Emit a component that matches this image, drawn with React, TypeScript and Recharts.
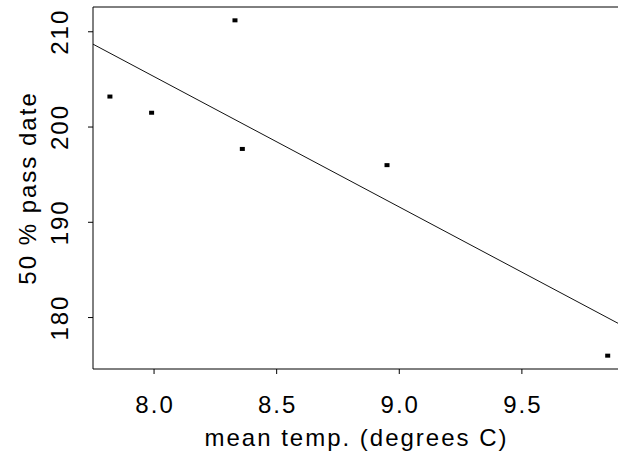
import { ScatterChart, Scatter, XAxis, YAxis, ReferenceLine } from "recharts";

const temps = [7.82, 7.99, 8.33, 8.36, 8.95, 9.85];
const passDates = [203.2, 201.5, 211.2, 197.7, 196.0, 176.0];
const fitTemps = [7.751, 9.892];
const fitDates = [208.7, 179.4];
const xTicks = [8.0, 8.5, 9.0, 9.5];
const yTicks = [180, 190, 200, 210];
const xDomain = [7.751, 9.892];
const yDomain = [174.6, 212.6];

const points = temps.map((t, i) => ({ x: t, y: passDates[i] }));
const fit = fitTemps.map((t, i) => ({ x: t, y: fitDates[i] }));

const font = "'Liberation Sans', Arial, sans-serif";
const fs = 24;
const ls = 2;

function XTick({ x, y, payload }: any) {
  return (
    <text x={x + ls / 2} y={y + 37} textAnchor="middle" fill="#000" fontFamily={font} fontSize={fs} letterSpacing={ls}>
      {Number(payload.value).toFixed(1)}
    </text>
  );
}

function YTick({ x, y, payload }: any) {
  const bx = x - 19;
  return (
    <text x={bx} y={y + ls / 2} textAnchor="middle" fill="#000" fontFamily={font} fontSize={fs} letterSpacing={ls} transform={`rotate(-90, ${bx}, ${y})`}>
      {payload.value}
    </text>
  );
}

function Dot({ cx, cy }: any) {
  return <rect x={cx - 2.5} y={cy - 2} width={5} height={4} fill="#000" />;
}

export default function App() {
  return (
    <div style={{ position: "absolute", left: 0, top: 0, background: "#fff" }}>
      <ScatterChart width={618} height={455} margin={{ top: 7, right: 0, bottom: 0, left: 0 }}>
        <XAxis
          dataKey="x"
          type="number"
          domain={xDomain}
          allowDataOverflow
          ticks={xTicks}
          interval={0}
          height={86}
          tickSize={5}
          axisLine={{ stroke: "#000" }}
          tickLine={{ stroke: "#000" }}
          tick={<XTick />}
          label={{
            content: ({ viewBox }: any) => (
              <text x={viewBox.x + viewBox.width / 2 + ls / 2} y={viewBox.y + 77} textAnchor="middle" fill="#000" fontFamily={font} fontSize={fs} letterSpacing={ls}>
                mean temp. (degrees C)
              </text>
            ),
          }}
        />
        <YAxis
          dataKey="y"
          type="number"
          domain={yDomain}
          allowDataOverflow
          ticks={yTicks}
          interval={0}
          width={93}
          tickSize={5}
          axisLine={{ stroke: "#000" }}
          tickLine={{ stroke: "#000" }}
          tick={<YTick />}
          label={{
            content: ({ viewBox }: any) => {
              const lx = viewBox.x + 35;
              const ly = viewBox.y + viewBox.height / 2;
              return (
                <text x={lx} y={ly + ls / 2} textAnchor="middle" fill="#000" fontFamily={font} fontSize={fs} letterSpacing={ls} transform={`rotate(-90, ${lx}, ${ly})`}>
                  50 % pass date
                </text>
              );
            },
          }}
        />
        <ReferenceLine y={yDomain[1]} stroke="#000" />
        <Scatter data={fit} line={{ stroke: "#111", strokeWidth: 1 }} shape={() => <g />} isAnimationActive={false} />
        <Scatter data={points} shape={<Dot />} isAnimationActive={false} />
      </ScatterChart>
    </div>
  );
}
